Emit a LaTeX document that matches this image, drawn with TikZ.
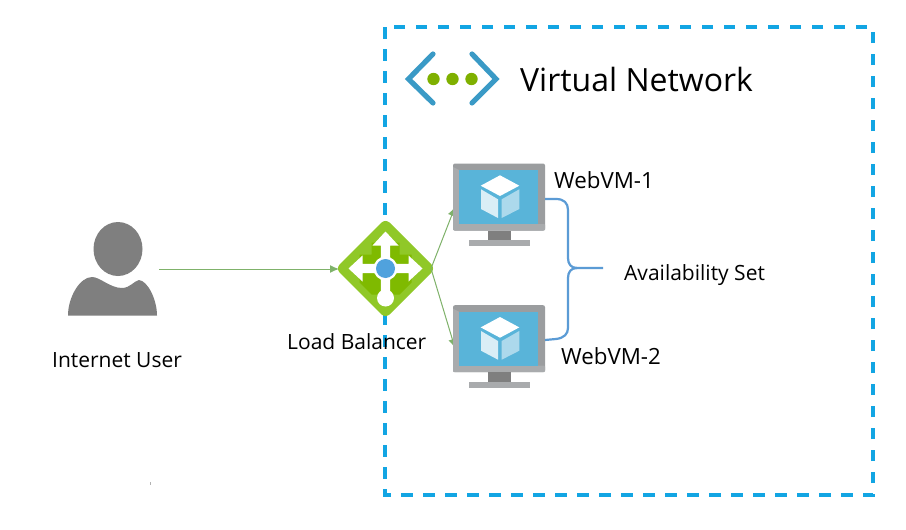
\documentclass[tikz,border=0pt]{standalone}
\usepackage{fontspec}
\setmainfont{Open Sans}
\usetikzlibrary{arrows.meta}
\definecolor{dashblue}{HTML}{12A5E3}
\definecolor{netblue}{HTML}{3A9AC6}
\definecolor{dotgreen}{HTML}{7FB000}
\definecolor{linegreen}{HTML}{7FB26A}
\definecolor{bracecol}{HTML}{5B9BD5}
\definecolor{usergray}{HTML}{7F7F7F}
\definecolor{frameg}{HTML}{A9ABAD}
\definecolor{frameg2}{HTML}{9B9D9F}
\definecolor{neckg}{HTML}{7F7F7F}
\definecolor{screenb}{HTML}{59B4D9}
\definecolor{lbgreen}{HTML}{7FBA00}
\definecolor{lblight}{HTML}{90C828}
\tikzset{
  boundary/.style={draw=dashblue,line width=3.4pt,dash pattern=on 11.5pt off 10.5pt},
  link/.style={draw=linegreen,line width=1pt,-{Latex[length=9pt,width=8pt,fill=linegreen]}},
  bracket/.style={draw=bracecol,line width=2.2pt,line join=round},
  label/.style={inner sep=0pt,text=black,font=\fontsize{21}{25}\selectfont,anchor=base west},
  vmlabel/.style={label,font=\fontsize{22.3}{27}\selectfont},
  vmmonitor/.pic={
    \fill[frameg2,rounded corners=2pt] (-46,-33.5) rectangle (46,33.5);
    \fill[frameg] (-46,33) -- (-46,-30) -- (-40,-27) -- (-40,27) -- cycle;
    \fill[frameg,rounded corners=1pt] (-46,27) rectangle (46,33.5);
    \fill[neckg] (-11.5,33.5) rectangle (11.5,46);
    \fill[frameg] (-30.5,43) rectangle (30.5,49);
    \fill[screenb] (-40,-27) rectangle (39,27);
    \fill[white] (1,-21.7) -- (20.3,-11.3) -- (1,-1) -- (-18.3,-11.3) -- cycle;
    \fill[white,opacity=.78] (-18,-7.7) -- (-1,2.3) -- (-1,21) -- (-18,12) -- cycle;
    \fill[white,opacity=.5] (20.3,-7.7) -- (2.7,2.3) -- (2.7,21) -- (20.3,12) -- cycle;
  }
}
\begin{document}
\begin{tikzpicture}[x=1pt,y=-1pt]
\useasboundingbox (0,0) rectangle (906,530);
\fill[white] (0,0) rectangle (906,530);
% boundary
\draw[boundary] (385,27) rectangle (873,495);
% network icon
\draw[netblue,line width=5.2pt,line cap=round,line join=miter] (433,54) -- (408.5,79) -- (433,103);
\draw[netblue,line width=5.2pt,line cap=round,line join=miter] (472,54) -- (496,79) -- (472,103);
\fill[dotgreen] (433.5,79) circle (6.2) (452.5,79) circle (6.2) (471.5,79) circle (6.2);
\node[label,font=\fontsize{32}{38}\selectfont] (title) at (520,91) {Virtual Network};
% user
\fill[usergray] (118,249) ellipse (24.5 and 27);
\fill[usergray] (68,315.5) .. controls (68,297) and (80,277) .. (92,277)
  .. controls (100,277) and (110,288) .. (122,288)
  .. controls (130,288) and (134,281) .. (139,280)
  .. controls (148,281) and (157,300) .. (157,315.5) -- cycle;
\node[label] (usertext) at (52,367) {Internet User};
% load balancer
\coordinate (lbc) at (385.5,268.5);
\begin{scope}[shift={(lbc)}]
  \fill[lblight,rounded corners=6pt] (0,-50) -- (50,0) -- (0,50) -- (-50,0) -- cycle;
  \fill[lbgreen] (-26,-14) -- (-14,-14) -- (-14,-26) -- (-4,-26) -- (-4,-4) -- (-26,-4) -- cycle;
  \fill[lbgreen] (26,-14) -- (14,-14) -- (14,-26) -- (4,-26) -- (4,-4) -- (26,-4) -- cycle;
  \fill[lbgreen] (-26,4) -- (-4,4) -- (-4,26) -- (-14,26) -- (-26,14) -- cycle;
  \fill[lbgreen] (26,4) -- (4,4) -- (4,26) -- (14,26) -- (26,14) -- cycle;
  \fill[white] (0,-37) -- (13,-23) -- (4.7,-23) -- (4.7,-4.7) -- (23,-4.7) -- (23,-13) -- (37,0) -- (23,13) -- (23,4.7) -- (4.7,4.7) -- (4.7,24) -- (-4.7,24) -- (-4.7,4.7) -- (-23,4.7) -- (-23,13) -- (-37,0) -- (-23,-13) -- (-23,-4.7) -- (-4.7,-4.7) -- (-4.7,-23) -- (-13,-23) -- cycle;
  \fill[white] (0,29.5) circle (8.5);
  \fill[white] (0,0) circle (12);
  \fill[screenb!90!blue] (0,0) circle (9.5);
\end{scope}
\node[label] (lbtext) at (287,349) {Load Balancer};
% anchors
\coordinate (userout) at (159,269);
\coordinate (lbin) at (339,269);
\coordinate (lbout) at (431,268.5);
\coordinate (vmin1) at (455,207);
\coordinate (vmin2) at (455,348);
\draw[link] (userout) -- (lbin);
\draw[link] (lbout) -- (vmin1);
\draw[link] (lbout) -- (vmin2);
% monitors
\pic at (499,197) {vmmonitor};
\pic at (499,338.7) {vmmonitor};
\node[vmlabel] (vm1text) at (554,188) {WebVM-1};
\node[vmlabel] (vm2text) at (561,364) {WebVM-2};
% brace
\coordinate (b1) at (545,199);
\coordinate (b2) at (545,340);
\coordinate (tip) at (603,268);
\draw[bracket] (b1) -- (556,199) .. controls (564,199) and (568,203) .. (568,210) -- (568,258)
  .. controls (568,264) and (571,268) .. (577,268) -- (tip);
\draw[bracket] (b2) -- (556,339) .. controls (564,338) and (568,334) .. (568,328) -- (568,278)
  .. controls (568,272) and (571,268) .. (577,268);
\node[label] (astext) at (624,280) {Availability Set};
\fill[gray!60] (150,482) rectangle (151,485);
\end{tikzpicture}
\end{document}
